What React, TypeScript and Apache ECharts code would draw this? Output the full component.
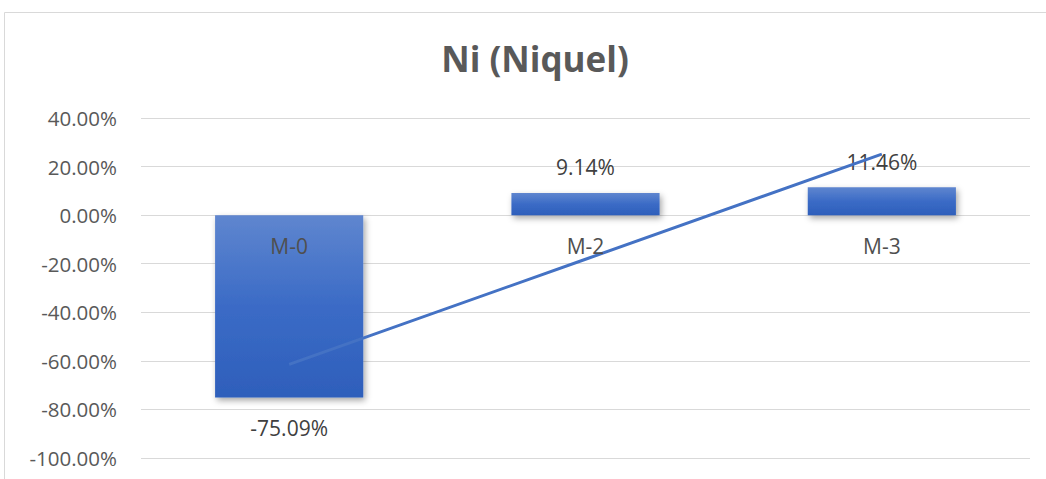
import React, { useEffect, useRef } from "react";
import * as echarts from "echarts";

const categories = ["M-0", "M-2", "M-3"];
const barValues = [-75.09, 9.14, 11.46];
const trendValues = [-61.44, -18.16, 25.11];
const categoryLabelLevel = [0, 0, 0];
const yTicks = { min: -100, max: 40, interval: 20 };
const titleText = "Ni (Niquel)";

export default function App() {
  const ref = useRef<HTMLDivElement>(null);
  useEffect(() => {
    const chart = echarts.init(ref.current!, null, { renderer: "svg" });
    const font = "'Open Sans', 'Noto Sans', sans-serif";
    chart.setOption({
      animation: false,
      backgroundColor: "#ffffff",
      textStyle: { fontFamily: font },
      title: {
        text: titleText,
        left: 530,
        top: 36,
        textAlign: "center",
        textStyle: { fontSize: 35, fontWeight: "bold", color: "#595959", fontFamily: font },
      },
      graphic: [
        {
          type: "rect",
          shape: { x: 4.5, y: 12.5, width: 1060, height: 500 },
          style: { fill: "none", stroke: "#d9d9d9", lineWidth: 1 },
          silent: true,
          z: -10,
        },
      ],
      grid: { left: 141, right: 16, top: 118, bottom: 21, containLabel: false, outerBoundsMode: "none" },
      xAxis: {
        type: "category",
        data: categories,
        axisLine: { show: false },
        axisTick: { show: false },
        axisLabel: { show: false },
        splitLine: { show: false },
      },
      yAxis: {
        type: "value",
        min: yTicks.min,
        max: yTicks.max,
        interval: yTicks.interval,
        axisLine: { show: false },
        axisTick: { show: false },
        axisLabel: {
          fontSize: 20.5,
          color: "#595959",
          margin: 24,
          fontFamily: font,
          formatter: (v: number) => v.toFixed(2) + "%",
        },
        splitLine: { lineStyle: { color: "#d9d9d9", width: 1 } },
      },
      series: [
        {
          type: "bar",
          data: barValues.map((v) => ({
            value: v,
            label: { distance: v < 0 ? 20 : 15 },
          })),
          barWidth: "50%",
          itemStyle: {
            color: new echarts.graphic.LinearGradient(0, 0, 0, 1, [
              { offset: 0, color: "#5f86cf" },
              { offset: 0.5, color: "#3b6bc6" },
              { offset: 1, color: "#2e5fbb" },
            ]),
            shadowBlur: 6,
            shadowOffsetX: 2,
            shadowOffsetY: 3,
            shadowColor: "rgba(0,0,0,0.35)",
          },
          label: {
            show: true,
            position: "outside",
            distance: 15,
            fontSize: 21,
            color: "#404040",
            fontFamily: font,
            formatter: (p: any) => Number(p.value).toFixed(2) + "%",
          },
          z: 2,
        },
        {
          type: "line",
          data: trendValues,
          symbol: "none",
          lineStyle: { color: "#4472c4", width: 3 },
          z: 5,
        },
        {
          type: "scatter",
          data: categoryLabelLevel,
          symbolSize: 1,
          itemStyle: { color: "rgba(0,0,0,0)" },
          silent: true,
          label: {
            show: true,
            position: "bottom",
            distance: 20,
            fontSize: 21,
            color: "#4f4f4f",
            opacity: 1,
            textBorderWidth: 0,
            fontFamily: font,
            formatter: (p: any) => p.name,
          },
          z: 10,
        },
      ],
    });
    return () => chart.dispose();
  }, []);
  return (
    <div
      ref={ref}
      style={{ position: "fixed", left: 0, top: 0, width: 1046, height: 479 }}
    />
  );
}
